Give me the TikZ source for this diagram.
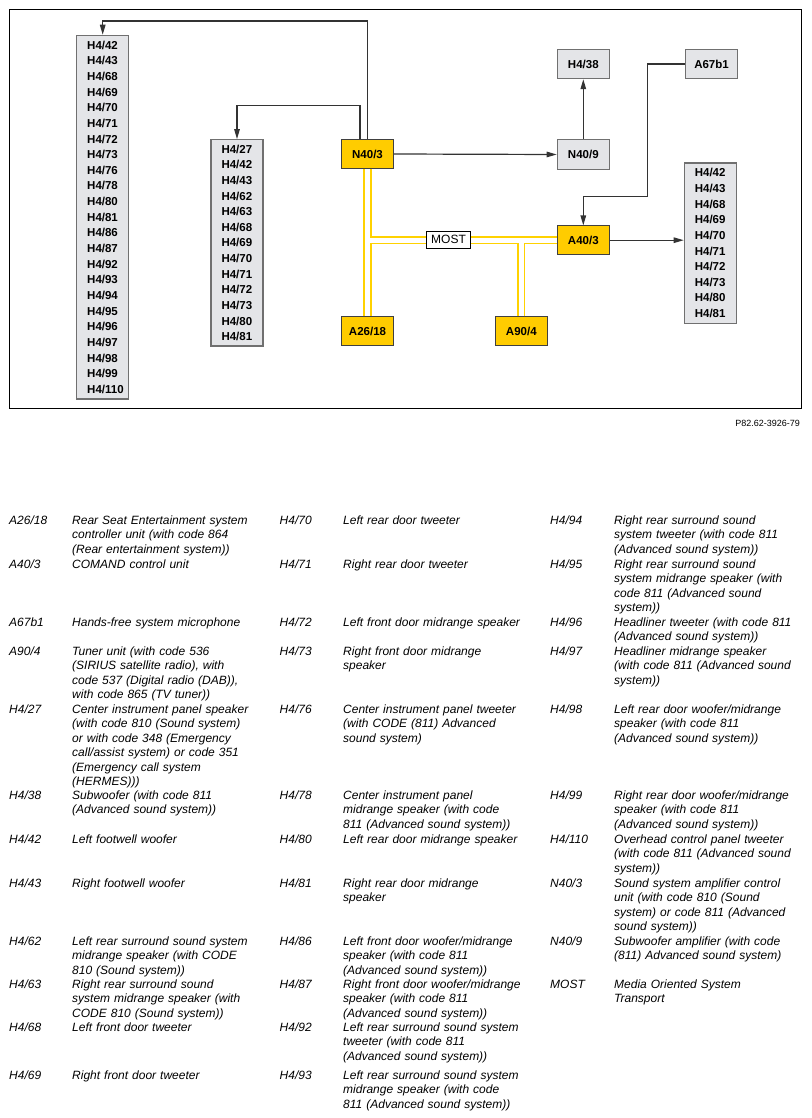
\documentclass[tikz,border=0pt]{standalone}
\usepackage{fontspec}
\setmainfont{Liberation Sans}
\usetikzlibrary{arrows.meta, positioning}
\definecolor{boxyellow}{HTML}{FFCC00}
\definecolor{boxgray}{HTML}{E4E5E8}
\definecolor{busyellow}{HTML}{FFD200}
\definecolor{wirecol}{HTML}{333333}
\definecolor{boxedge}{HTML}{707070}

\tikzset{
  ctrl/.style={draw=black!75, line width=1pt, fill=boxyellow, minimum width=52pt,
    minimum height=28.6pt, inner sep=0pt, font=\fontsize{11.5}{13}\selectfont\bfseries},
  part/.style={ctrl, draw=boxedge, fill=boxgray, line width=1.2pt, minimum height=29.3pt},
  partlist/.style={part, text width=31pt, inner xsep=10.5pt, inner ysep=0pt, align=left,
    font=\fontsize{11.5}{15.64}\selectfont\bfseries},
  wire/.style={draw=wirecol, line width=1.2pt, -{Triangle[length=10pt,width=5.5pt]}},
  busout/.style={draw=busyellow, line width=8.2pt},
  busin/.style={draw=white, line width=4.6pt},
  buslabel/.style={draw=black, line width=0.7pt, fill=white, minimum width=43.6pt,
    minimum height=17.3pt, inner sep=0pt, font=\fontsize{12}{14}\selectfont},
  legkey/.style={anchor=base west, inner sep=0pt, font=\fontsize{12}{14.5}\selectfont\itshape},
  legtxt/.style={legkey, text width=200pt, align=left}
}

\begin{document}
\begin{tikzpicture}[x=1pt, y=-1pt]
\useasboundingbox (0,0) rectangle (811,1118);
\fill[white] (0,0) rectangle (811,1118);
\draw[line width=1pt] (9.3,9.3) rectangle (801.3,408);

% control units
\node[ctrl] (N403) at (367.5,154) {N40/3};
\node[ctrl] (A2618) at (367.5,331) {A26/18};
\node[ctrl] (A403) at (583.3,240.2) {A40/3};
\node[ctrl] (A904) at (521.3,331) {A90/4};
\node[part] (N409) at (583.3,154.5) {N40/9};
\node[part, above=60pt of N409] (H438) {H4/38};
\node[part, right=75pt of H438] (A67b1) {A67b1};

% speaker groups
\node[partlist, minimum height=363.7pt] (spkL) at (102.7,217.2)
  {H4/42\\H4/43\\H4/68\\H4/69\\H4/70\\H4/71\\H4/72\\H4/73\\H4/76\\H4/78\\H4/80\\H4/81\\
   H4/86\\H4/87\\H4/92\\H4/93\\H4/94\\H4/95\\H4/96\\H4/97\\H4/98\\H4/99\\H4/110};
\node[partlist, minimum height=206.3pt] (spkM) at (237,242.9)
  {H4/27\\H4/42\\H4/43\\H4/62\\H4/63\\H4/68\\H4/69\\H4/70\\H4/71\\H4/72\\H4/73\\H4/80\\H4/81};
\node[partlist, minimum height=160.3pt] (spkR) at (710.3,243.2)
  {H4/42\\H4/43\\H4/68\\H4/69\\H4/70\\H4/71\\H4/72\\H4/73\\H4/80\\H4/81};

% MOST ring
\coordinate (busT) at (N403.south |- A403.west);
\coordinate (busB) at (A904.north |- A403.west);
\draw[busout] (N403.south) -- (A2618.north) (busT) -- (A403.west) (busB) -- (A904.north);
\draw[busin] (N403.south) -- (A2618.north) (busT) -- (A403.west) (busB) -- (A904.north);
\node[buslabel] (mostlbl) at (448.5,239.7) {MOST};

% wiring
\coordinate (wireL) at (102.7,21);
\coordinate (wireM) at (237,105.3);
\coordinate (wireA) at (647.7,196.7);
\draw[wire] (N403.north) |- (wireL) -- (spkL.north);
\draw[wire] ([xshift=-7.5pt]N403.north) |- (wireM) -- (spkM.north);
\draw[wire] (N403.east) -- (N409.west);
\draw[wire] (N409.north) -- (H438.south);
\draw[wire] (A67b1.west) -| (wireA) -| (A403.north);
\draw[wire] (A403.east) -- (A403.east -| spkR.west);

\node[anchor=east, inner sep=0pt, font=\fontsize{9}{10}\selectfont] (figref) at (800,423.5) {P82.62-3926-79};

% legend, first column
\node[legkey] (keyA2618) at (9,524.3) {A26/18};
\node[legtxt] (txtA2618) at (72,524.3) {Rear Seat Entertainment system\\controller unit (with code 864\\(Rear entertainment system))};
\node[legkey] (keyA403) at (9,568.3) {A40/3};
\node[legtxt] (txtA403) at (72,568.3) {COMAND control unit};
\node[legkey] (keyA67b1) at (9,626.3) {A67b1};
\node[legtxt] (txtA67b1) at (72,626.3) {Hands-free system microphone};
\node[legkey] (keyA904) at (9,655.3) {A90/4};
\node[legtxt] (txtA904) at (72,655.3) {Tuner unit (with code 536\\(SIRIUS satellite radio), with\\code 537 (Digital radio (DAB)),\\with code 865 (TV tuner))};
\node[legkey] (keyH427) at (9,713.3) {H4/27};
\node[legtxt] (txtH427) at (72,713.3) {Center instrument panel speaker\\(with code 810 (Sound system)\\or with code 348 (Emergency\\call/assist system) or code 351\\(Emergency call system\\(HERMES)))};
\node[legkey] (keyH438) at (9,799.3) {H4/38};
\node[legtxt] (txtH438) at (72,799.3) {Subwoofer (with code 811\\(Advanced sound system))};
\node[legkey] (keyH442) at (9,843.3) {H4/42};
\node[legtxt] (txtH442) at (72,843.3) {Left footwell woofer};
\node[legkey] (keyH443) at (9,887.3) {H4/43};
\node[legtxt] (txtH443) at (72,887.3) {Right footwell woofer};
\node[legkey] (keyH462) at (9,945.3) {H4/62};
\node[legtxt] (txtH462) at (72,945.3) {Left rear surround sound system\\midrange speaker (with CODE\\810 (Sound system))};
\node[legkey] (keyH463) at (9,988.3) {H4/63};
\node[legtxt] (txtH463) at (72,988.3) {Right rear surround sound\\system midrange speaker (with\\CODE 810 (Sound system))};
\node[legkey] (keyH468) at (9,1031.3) {H4/68};
\node[legtxt] (txtH468) at (72,1031.3) {Left front door tweeter};
\node[legkey] (keyH469) at (9,1079.3) {H4/69};
\node[legtxt] (txtH469) at (72,1079.3) {Right front door tweeter};

% legend, second column
\node[legkey] (keyH470) at (279.5,524.3) {H4/70};
\node[legtxt] (txtH470) at (343,524.3) {Left rear door tweeter};
\node[legkey] (keyH471) at (279.5,568.3) {H4/71};
\node[legtxt] (txtH471) at (343,568.3) {Right rear door tweeter};
\node[legkey] (keyH472) at (279.5,626.3) {H4/72};
\node[legtxt] (txtH472) at (343,626.3) {Left front door midrange speaker};
\node[legkey] (keyH473) at (279.5,655.3) {H4/73};
\node[legtxt] (txtH473) at (343,655.3) {Right front door midrange\\speaker};
\node[legkey] (keyH476) at (279.5,713.3) {H4/76};
\node[legtxt] (txtH476) at (343,713.3) {Center instrument panel tweeter\\(with CODE (811) Advanced\\sound system)};
\node[legkey] (keyH478) at (279.5,799.3) {H4/78};
\node[legtxt] (txtH478) at (343,799.3) {Center instrument panel\\midrange speaker (with code\\811 (Advanced sound system))};
\node[legkey] (keyH480) at (279.5,843.3) {H4/80};
\node[legtxt] (txtH480) at (343,843.3) {Left rear door midrange speaker};
\node[legkey] (keyH481) at (279.5,887.3) {H4/81};
\node[legtxt] (txtH481) at (343,887.3) {Right rear door midrange\\speaker};
\node[legkey] (keyH486) at (279.5,945.3) {H4/86};
\node[legtxt] (txtH486) at (343,945.3) {Left front door woofer/midrange\\speaker (with code 811\\(Advanced sound system))};
\node[legkey] (keyH487) at (279.5,988.3) {H4/87};
\node[legtxt] (txtH487) at (343,988.3) {Right front door woofer/midrange\\speaker (with code 811\\(Advanced sound system))};
\node[legkey] (keyH492) at (279.5,1031.3) {H4/92};
\node[legtxt] (txtH492) at (343,1031.3) {Left rear surround sound system\\tweeter (with code 811\\(Advanced sound system))};
\node[legkey] (keyH493) at (279.5,1079.3) {H4/93};
\node[legtxt] (txtH493) at (343,1079.3) {Left rear surround sound system\\midrange speaker (with code\\811 (Advanced sound system))};

% legend, third column
\node[legkey] (keyH494) at (550,524.3) {H4/94};
\node[legtxt] (txtH494) at (614,524.3) {Right rear surround sound\\system tweeter (with code 811\\(Advanced sound system))};
\node[legkey] (keyH495) at (550,568.3) {H4/95};
\node[legtxt] (txtH495) at (614,568.3) {Right rear surround sound\\system midrange speaker (with\\code 811 (Advanced sound\\system))};
\node[legkey] (keyH496) at (550,626.3) {H4/96};
\node[legtxt] (txtH496) at (614,626.3) {Headliner tweeter (with code 811\\(Advanced sound system))};
\node[legkey] (keyH497) at (550,655.3) {H4/97};
\node[legtxt] (txtH497) at (614,655.3) {Headliner midrange speaker\\(with code 811 (Advanced sound\\system))};
\node[legkey] (keyH498) at (550,713.3) {H4/98};
\node[legtxt] (txtH498) at (614,713.3) {Left rear door woofer/midrange\\speaker (with code 811\\(Advanced sound system))};
\node[legkey] (keyH499) at (550,799.3) {H4/99};
\node[legtxt] (txtH499) at (614,799.3) {Right rear door woofer/midrange\\speaker (with code 811\\(Advanced sound system))};
\node[legkey] (keyH4110) at (550,843.3) {H4/110};
\node[legtxt] (txtH4110) at (614,843.3) {Overhead control panel tweeter\\(with code 811 (Advanced sound\\system))};
\node[legkey] (keyN403) at (550,887.3) {N40/3};
\node[legtxt] (txtN403) at (614,887.3) {Sound system amplifier control\\unit (with code 810 (Sound\\system) or code 811 (Advanced\\sound system))};
\node[legkey] (keyN409) at (550,945.3) {N40/9};
\node[legtxt] (txtN409) at (614,945.3) {Subwoofer amplifier (with code\\(811) Advanced sound system)};
\node[legkey] (keyMOST) at (550,988.3) {MOST};
\node[legtxt] (txtMOST) at (614,988.3) {Media Oriented System\\Transport};
\end{tikzpicture}
\end{document}
